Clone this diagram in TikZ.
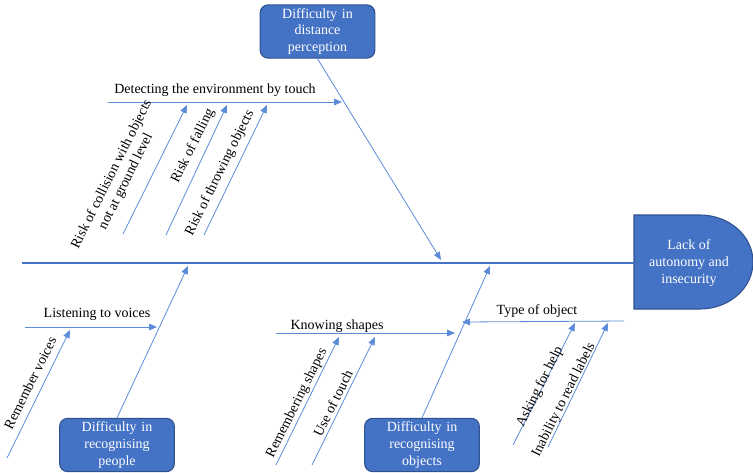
\documentclass[tikz,border=0pt]{standalone}
\usepackage{fontspec}
\setmainfont{Liberation Serif}
\usetikzlibrary{arrows.meta}
\definecolor{fishblue}{HTML}{4472C4}
\definecolor{fishedge}{HTML}{2F528F}
\definecolor{linkblue}{HTML}{5B8BD9}
\begin{document}
\begin{tikzpicture}[x=0.75pt,y=-0.75pt,
  causebox/.style={draw=fishedge,line width=0.8pt,fill=fishblue,rounded corners=6pt,text=white,
    text width=84pt,align=center,minimum height=40pt,inner sep=1pt,font=\fontsize{10.5}{12.5}\selectfont},
  lbl/.style={font=\fontsize{10.5}{12}\selectfont,inner sep=0pt,align=center},
  bone/.style={draw=linkblue,line width=0.6pt},
  arr/.style={bone,-{Triangle[length=6pt,width=5pt]},shorten >=0pt},
  spine/.style={draw=fishblue,line width=1.5pt}]
\useasboundingbox (0,0) rectangle (753,472);

% head
\path[fill=fishblue,draw=fishedge,line width=0.8pt] (634,215) -- (700,215)
  arc[start angle=-90,end angle=90,x radius=53,y radius=47] -- (634,309) -- cycle;
\node[lbl,text=white,font=\fontsize{10.5}{12.5}\selectfont] (head) at (689,263) {Lack of\\autonomy and\\insecurity};
\coordinate (headw) at (634,263);
\coordinate (tail) at (22,263);
\draw[spine] (tail) -- (headw);

% cause boxes
\node[causebox] (dist) at (317.5,31.5) {Difficulty in\\distance\\perception};
\node[causebox] (people) at (117,445) {Difficulty in\\recognising\\people};
\node[causebox] (objects) at (422,445) {Difficulty in\\recognising\\objects};

% main bones
\coordinate (tipdist) at (441,260);
\coordinate (tippeople) at (188,266);
\coordinate (tipobj) at (490,266);
\draw[arr] (dist.south) ++(0,0) -- (tipdist);
\draw[arr] (people.north) -- (tippeople);
\draw[arr] (objects.north) -- (tipobj);

% Detecting the environment by touch
\coordinate (detS) at (108,102);
\coordinate (detE) at (342,102);
\draw[arr] (detS) -- (detE);
\node[lbl] (detL) at (215,90) {Detecting the environment by touch};

\coordinate (c1s) at (123,234); \coordinate (c1e) at (187,105);
\coordinate (c2s) at (166,235); \coordinate (c2e) at (227,105);
\coordinate (c3s) at (204,235); \coordinate (c3e) at (267,105);
\draw[arr] (c1s) -- (c1e);
\draw[arr] (c2s) -- (c2e);
\draw[arr] (c3s) -- (c3e);
\node[lbl,rotate=63.5] (c1L) at (119,178) {Risk of collision with objects\\not at ground level};
\node[lbl,rotate=63.5] (c2L) at (193,146) {Risk of falling};
\node[lbl,rotate=63.5] (c3L) at (220,173) {Risk of throwing objects};

% Listening to voices
\coordinate (lvS) at (25,327);
\coordinate (lvE) at (157,327);
\draw[arr] (lvS) -- (lvE);
\node[lbl] (lvL) at (97,314) {Listening to voices};
\coordinate (rvS) at (7,458); \coordinate (rvE) at (70,330);
\draw[arr] (rvS) -- (rvE);
\node[lbl,rotate=63.5] (rvL) at (30,383) {Remember voices};

% Knowing shapes
\coordinate (ksS) at (276,333);
\coordinate (ksE) at (455,333);
\draw[arr] (ksS) -- (ksE);
\node[lbl] (ksL) at (337,326) {Knowing shapes};
\coordinate (rsS) at (276,465); \coordinate (rsE) at (339,337);
\coordinate (utS) at (312,465); \coordinate (utE) at (375,337);
\draw[arr] (rsS) -- (rsE);
\draw[arr] (utS) -- (utE);
\node[lbl,rotate=63.5] (rsL) at (297,403) {Remembering shapes};
\node[lbl,rotate=63.5] (utL) at (333,403) {Use of touch};

% Type of object
\coordinate (toS) at (624,321);
\coordinate (toE) at (462,322);
\draw[arr] (toS) -- (toE);
\node[lbl] (toL) at (537,311) {Type of object};
\coordinate (ahS) at (513,445); \coordinate (ahE) at (575,323);
\coordinate (irS) at (548,447); \coordinate (irE) at (608,323);
\draw[arr] (ahS) -- (ahE);
\draw[arr] (irS) -- (irE);
\node[lbl,rotate=63.5] (ahL) at (540,387) {Asking for help};
\node[lbl,rotate=63.5] (irL) at (564,400) {Inability to read labels};
\end{tikzpicture}
\end{document}
